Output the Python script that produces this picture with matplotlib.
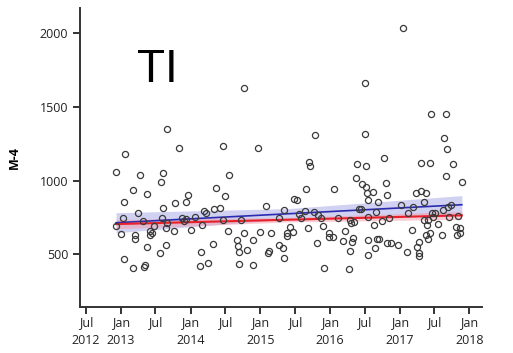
import matplotlib
matplotlib.use("Agg")
import matplotlib.pyplot as plt
import numpy as np
from datetime import datetime, timedelta

# ---------------- data (decimal year, M-4 value) ----------------
years = [2012.935, 2012.93, 2013.0, 2013.03, 2013.06, 2013.05, 2013.04, 2013.17, 2013.18, 2013.2,
         2013.2, 2013.25, 2013.27, 2013.32, 2013.33, 2013.34, 2013.38, 2013.38, 2013.41, 2013.42,
         2013.45, 2013.48, 2013.56, 2013.57, 2013.6, 2013.61, 2013.59, 2013.64, 2013.64, 2013.66,
         2013.66, 2013.76, 2013.78, 2013.83, 2013.87, 2013.9, 2013.93, 2013.96, 2013.93, 2014.0,
         2014.07, 2014.14, 2014.15, 2014.17, 2014.19, 2014.22, 2014.25, 2014.32, 2014.33, 2014.36,
         2014.42, 2014.47, 2014.49, 2014.46, 2014.53, 2014.55,
         2014.668, 2014.68, 2014.69, 2014.70, 2014.73, 2014.77, 2014.77, 2014.81, 2014.89, 2014.90,
         2014.97, 2015.0, 2015.08, 2015.11, 2015.12, 2015.16, 2015.27, 2015.27, 2015.33, 2015.34,
         2015.34, 2015.38, 2015.39, 2015.43, 2015.47, 2015.48, 2015.52, 2015.55, 2015.58, 2015.65,
         2015.64, 2015.69, 2015.70, 2015.71, 2015.79, 2015.77, 2015.81, 2015.83, 2015.87, 2015.90,
         2015.92, 2015.98, 2015.99, 2016.05, 2016.06, 2016.12, 2016.18, 2016.22, 2016.27, 2016.28,
         2016.29, 2016.30, 2016.31, 2016.33, 2016.34, 2016.37, 2016.39, 2016.41, 2016.44, 2016.46,
         2016.50, 2016.50, 2016.51, 2016.52, 2016.53, 2016.54, 2016.54, 2016.55, 2016.55, 2016.61,
         2016.63, 2016.65, 2016.66, 2016.68, 2016.69, 2016.70, 2016.75, 2016.77, 2016.80, 2016.81,
         2016.84, 2016.81, 2016.87, 2016.97, 2017.02, 2017.05, 2017.10, 2017.12, 2017.18, 2017.19,
         2017.23, 2017.25, 2017.27, 2017.27, 2017.28, 2017.30, 2017.31, 2017.34, 2017.35, 2017.37,
         2017.38, 2017.39, 2017.40, 2017.41, 2017.43, 2017.44, 2017.45, 2017.46, 2017.48, 2017.50,
         2017.55, 2017.60, 2017.62, 2017.64, 2017.66, 2017.66, 2017.68, 2017.69, 2017.70, 2017.74,
         2017.76, 2017.81, 2017.82, 2017.83, 2017.86, 2017.87, 2017.89]
values = [1057, 692, 635, 744, 1177, 854, 471, 407, 938, 629,
          604, 780, 1035, 728, 417, 426, 906, 552, 658, 631,
          642, 692, 507, 990, 816, 1053, 744, 561, 680, 1350,
          714, 656, 845, 1220, 744, 726, 854, 899, 741, 665,
          755, 421, 514, 696, 796, 777, 444, 568, 809, 947,
          816, 1233, 895, 735, 660, 1037,
          597, 556, 514, 435, 732, 1628, 647, 529, 597, 428,
          1220, 649, 829, 507, 525, 647, 744, 563, 545, 800,
          473, 642, 624, 687, 653, 872, 868, 773, 748, 944,
          796, 678, 1123, 1100, 1310, 784, 574, 766, 744, 692,
          405, 642, 615, 620, 942, 744, 593, 658, 403, 732,
          525, 714, 586, 608, 721, 1019, 1111, 805, 805, 974,
          1657, 1314, 1100, 956, 917, 868, 755, 597, 496, 924,
          699, 541, 789, 604, 856, 602, 726, 1152, 980, 902,
          748, 579, 579, 563, 834, 2034, 518, 777, 665, 823,
          913, 547, 586, 511, 489, 1118, 929, 852, 732, 917,
          631, 696, 602, 732, 1118, 642, 1450, 777, 755, 777,
          703, 631, 800, 1290, 1032, 1452, 1215, 823, 755, 836,
          1114, 687, 631, 762, 676, 642, 990]

# trend lines (start, middle, end) and half-widths of the bands
trend_years = [2012.93, 2015.41, 2017.89]
blue_trend = [714, 775, 836]
blue_band = [68, 35, 62]
red_trend = [705, 734.5, 764]
red_band = [32, 15, 27]

tick_labels = ["Jul\n2012", "Jan\n2013", "Jul", "Jan\n2014", "Jul", "Jan\n2015",
               "Jul", "Jan\n2016", "Jul", "Jan\n2017", "Jul", "Jan\n2018"]


def to_date(y):
    year = int(y)
    start = datetime(year, 1, 1)
    length = (datetime(year + 1, 1, 1) - start).total_seconds()
    return start + timedelta(seconds=(y - year) * length)


plt.rcParams['font.family'] = ['Open Sans', 'DejaVu Sans']

fig = plt.figure(figsize=(5.13, 3.53), dpi=100)
ax = fig.add_axes([0.155, 0.131, 0.784, 0.845])

xd = [to_date(y) for y in years]
td = [to_date(y) for y in trend_years]

bt = np.array(blue_trend); bb = np.array(blue_band)
rt = np.array(red_trend); rb = np.array(red_band)

ax.fill_between(td, bt - bb, bt + bb, color='#9a9ae0', alpha=0.45, lw=0, zorder=1)
ax.fill_between(td, rt - rb, rt + rb, color='#f29aa6', alpha=0.5, lw=0, zorder=2)
ax.plot(td, bt, color='#2b2bb0', lw=1.2, zorder=3)
ax.plot(td, rt, color='#e8202a', lw=1.5, zorder=4)

ax.plot(xd, values, 'o', ms=4.4, mfc='none', mec='#3a3a3a', mew=0.9, zorder=5)

ax.set_ylim(145, 2165)
ax.set_xlim(datetime(2012, 5, 29), datetime(2018, 3, 6))

ax.set_yticks([500, 1000, 1500, 2000])
ticks = []
for yr in range(2012, 2019):
    for m in (1, 7):
        d = datetime(yr, m, 1)
        if datetime(2012, 7, 1) <= d <= datetime(2018, 1, 1):
            ticks.append(d)
ax.set_xticks(ticks)
ax.set_xticklabels(tick_labels, linespacing=1.45)

for s in ('top', 'right'):
    ax.spines[s].set_visible(False)
for s in ('left', 'bottom'):
    ax.spines[s].set_linewidth(1.4)
    ax.spines[s].set_color('#333333')

ax.tick_params(axis='both', length=5, width=1.4, color='#333333', labelsize=9, labelcolor='#222222')
ax.tick_params(axis='x', pad=2)
ax.tick_params(axis='y', pad=3)
ax.set_ylabel('M-4', fontsize=9, fontweight='bold', labelpad=14)

ax.text(0.143, 0.752, 'TI', transform=ax.transAxes, fontsize=33, family='Liberation Sans', color='black')

fig.savefig('out.png', dpi=100)
